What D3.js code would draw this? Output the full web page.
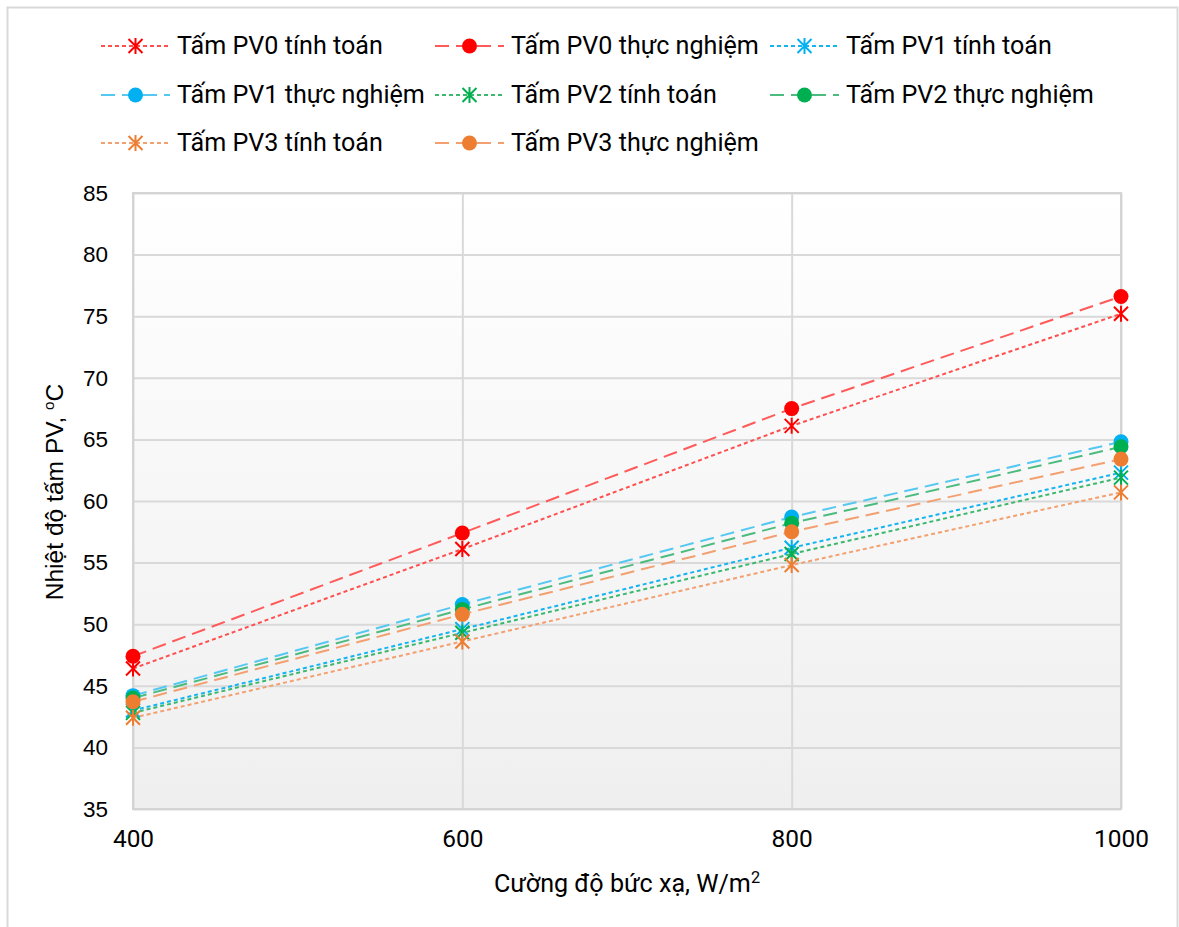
<!DOCTYPE html>
<html><head><meta charset="utf-8">
<script src="https://cdn.jsdelivr.net/npm/d3@7"></script>
<style>body{margin:0;background:#fff}svg{display:block}</style>
</head><body>
<svg id="chart" width="1179" height="927"></svg>
<script>
const irradiance = [400, 600, 800, 1000];
const pv0Calc = [46.4, 56.1, 66.1, 75.2];
const pv0Exp  = [47.4, 57.4, 67.5, 76.6];
const pv1Calc = [43.0, 49.6, 56.2, 62.3];
const pv1Exp  = [44.2, 51.6, 58.7, 64.8];
const pv2Calc = [42.8, 49.3, 55.7, 61.9];
const pv2Exp  = [44.0, 51.2, 58.2, 64.4];
const pv3Calc = [42.4, 48.6, 54.8, 60.7];
const pv3Exp  = [43.7, 50.8, 57.5, 63.4];
const xTicks = [400, 600, 800, 1000];
const yTicks = [35, 40, 45, 50, 55, 60, 65, 70, 75, 80, 85];

const seriesNames = ["Tấm PV0 tính toán","Tấm PV0 thực nghiệm","Tấm PV1 tính toán",
  "Tấm PV1 thực nghiệm","Tấm PV2 tính toán","Tấm PV2 thực nghiệm",
  "Tấm PV3 tính toán","Tấm PV3 thực nghiệm"];
const seriesValues = [pv0Calc,pv0Exp,pv1Calc,pv1Exp,pv2Calc,pv2Exp,pv3Calc,pv3Exp];
const markerColors = ["#FF0000","#FF0000","#00B0F0","#00B0F0","#00B050","#00B050","#ED7D31","#ED7D31"];
const lineColors = ["#FF4F4F","#FF5A5A","#14B4F0","#55C8F2","#3CB86E","#4CBB7F","#F3A070","#F3A070"];
const kinds = ["calc","exp","calc","exp","calc","exp","calc","exp"];

const svg = d3.select("#chart");
const axisFont = "'Liberation Sans', Arial, sans-serif";
const narrowFont = "Roboto, sans-serif";

function fitSize(str, target, base, fam){
  const t = svg.append("text").attr("font-family",fam).attr("font-size",base).text(str);
  const w = t.node().getComputedTextLength();
  t.remove();
  return base*target/w;
}
const legendSize = fitSize("Tấm PV0 tính toán", 206, 22, narrowFont);
const tickSize = fitSize("1000", 55, 22, narrowFont);
const yTitleSize = fitSize("Nhiệt độ tấm PV, oC", 222, 22, axisFont);

// outer frame
svg.append("rect").attr("x",7.5).attr("y",7.5).attr("width",1170).attr("height",940)
  .attr("fill","#fff").attr("stroke","#d9d9d9").attr("stroke-width",2);

const L=133, T=193, R=1121, B=809;
const x = d3.scaleLinear().domain([400,1000]).range([L,R]);
const y = d3.scaleLinear().domain([35,85]).range([B,T]);

const defs = svg.append("defs");
const grad = defs.append("linearGradient").attr("id","bg").attr("x1",0).attr("y1",0).attr("x2",0).attr("y2",1);
grad.append("stop").attr("offset","0%").attr("stop-color","#ffffff");
grad.append("stop").attr("offset","100%").attr("stop-color","#efefef");
svg.append("rect").attr("x",L).attr("y",T).attr("width",R-L).attr("height",B-T).attr("fill","url(#bg)");

// grid
const gy = svg.append("g").attr("transform",`translate(${L},0)`)
  .call(d3.axisLeft(y).tickValues(yTicks).tickSize(-(R-L)).tickFormat(""));
gy.select(".domain").remove();
gy.selectAll("line").attr("stroke","#d9d9d9").attr("stroke-width",2);
const gx = svg.append("g").attr("transform",`translate(0,${B})`)
  .call(d3.axisBottom(x).tickValues(xTicks).tickSize(-(B-T)).tickFormat(""));
gx.select(".domain").remove();
gx.selectAll("line").attr("stroke","#d9d9d9").attr("stroke-width",2);
svg.append("rect").attr("x",L).attr("y",T).attr("width",R-L).attr("height",B-T)
  .attr("fill","none").attr("stroke","#d4d4d4").attr("stroke-width",2);

// tick labels
const ty = svg.append("g").attr("transform",`translate(${L},0)`)
  .call(d3.axisLeft(y).tickValues(yTicks).tickSize(0).tickPadding(25));
ty.select(".domain").remove();
ty.selectAll("text").attr("font-family",axisFont).attr("font-size",22.5).attr("fill","#000");
const tx = svg.append("g").attr("transform",`translate(0,${B})`)
  .call(d3.axisBottom(x).tickValues(xTicks).tickSize(0).tickPadding(21).tickFormat(d3.format("d")));
tx.select(".domain").remove();
tx.selectAll("text").attr("font-family",narrowFont).attr("font-size",tickSize).attr("fill","#000");

// axis titles
const yt = svg.append("text").attr("transform","translate(63,492) rotate(-90)")
  .attr("text-anchor","middle").attr("font-family",axisFont).attr("font-size",yTitleSize).attr("fill","#000");
yt.append("tspan").text("Nhiệt độ tấm PV, ");
yt.append("tspan").attr("font-size",yTitleSize*0.62).attr("dy",-9).text("o");
yt.append("tspan").attr("dy",9).text("C");
const xt = svg.append("text").attr("x",627).attr("y",892).attr("text-anchor","middle")
  .attr("font-family",narrowFont).attr("font-size",legendSize).attr("fill","#000");
xt.append("tspan").text("Cường độ bức xạ, W/m");
xt.append("tspan").attr("font-size",legendSize*0.65).attr("dy",-9).text("2");

function drawStar(g, cx, cy, color){
  const s=7;
  g.append("path").attr("d",`M${cx-s},${cy-s}L${cx+s},${cy+s}M${cx-s},${cy+s}L${cx+s},${cy-s}M${cx},${cy-s-1}L${cx},${cy+s+1}`)
    .attr("stroke",color).attr("stroke-width",2).attr("fill","none");
}
function drawDot(g, cx, cy, color){
  g.append("circle").attr("cx",cx).attr("cy",cy).attr("r",7.5).attr("fill",color);
}
const dashes = {calc:"4,3", exp:"14,7"};

const line = d3.line().x((d,i)=>x(irradiance[i])).y(d=>y(d));
seriesValues.forEach((vals,si)=>{
  const g = svg.append("g");
  g.append("path").attr("d",line(vals)).attr("fill","none")
    .attr("stroke",lineColors[si]).attr("stroke-width",2).attr("stroke-dasharray",dashes[kinds[si]]);
  vals.forEach((v,i)=>{
    if(kinds[si]==="calc") drawStar(g,x(irradiance[i]),y(v),markerColors[si]);
    else drawDot(g,x(irradiance[i]),y(v),markerColors[si]);
  });
});

// legend
const colX = [101, 435, 770];
const rowY = [46, 95, 143];
seriesNames.forEach((name,si)=>{
  const c = si%3, r = Math.floor(si/3);
  const lx = colX[c], ly = rowY[r];
  const g = svg.append("g");
  g.append("line").attr("x1",lx).attr("x2",lx+69).attr("y1",ly).attr("y2",ly)
    .attr("stroke",lineColors[si]).attr("stroke-width",2).attr("stroke-dasharray",dashes[kinds[si]]);
  if(kinds[si]==="calc") drawStar(g,lx+34.5,ly,markerColors[si]);
  else drawDot(g,lx+34.5,ly,markerColors[si]);
  g.append("text").attr("x",lx+76).attr("y",ly+8).attr("font-family",narrowFont)
    .attr("font-size",legendSize).attr("fill","#000").text(name);
});
</script>
</body></html>
